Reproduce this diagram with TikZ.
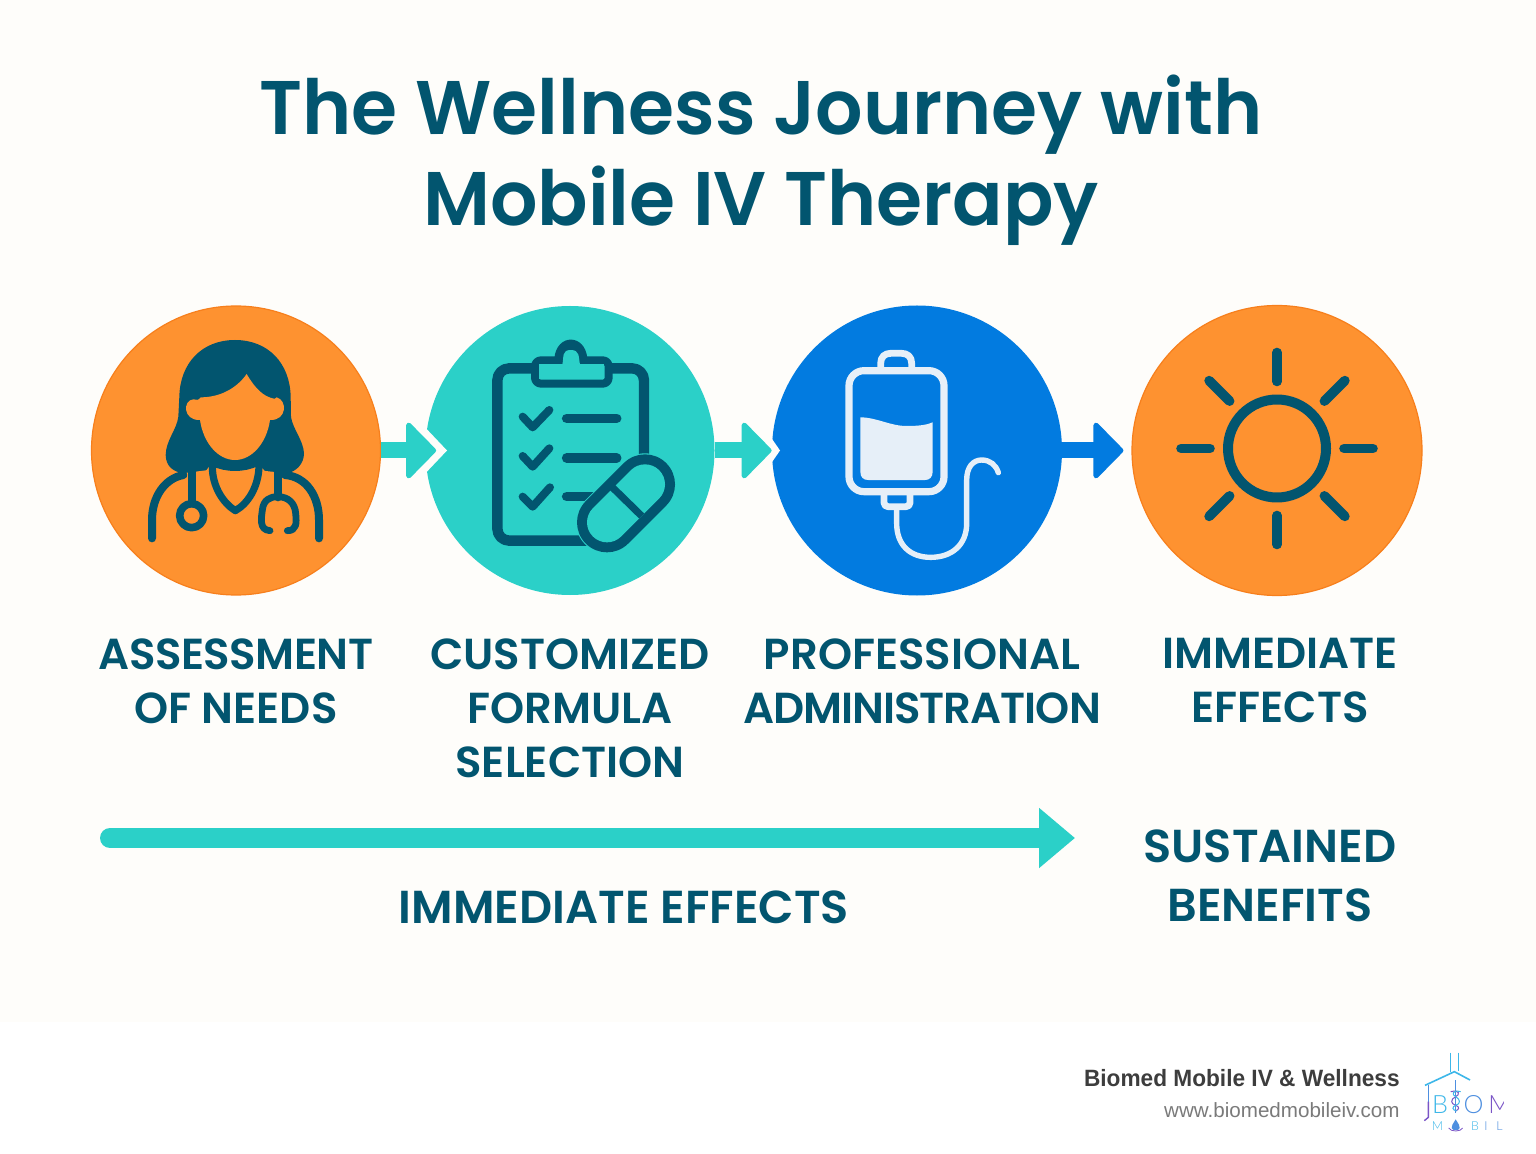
\documentclass[tikz,border=0pt]{standalone}
\usepackage{fontspec}
\usetikzlibrary{arrows.meta}
\setmainfont{Liberation Sans}
\newfontfamily\headfont{Poppins SemiBold}
\newfontfamily\titlefont[FakeStretch=0.98]{Poppins SemiBold}
\newfontfamily\footfont[FakeStretch=0.96]{Liberation Sans}
\newfontfamily\logofont{Lato Light}
\definecolor{paper}{HTML}{FEFDFA}
\definecolor{ink}{HTML}{02556F}
\definecolor{orangefill}{HTML}{FE9230}
\definecolor{orangeline}{HTML}{F77F1C}
\definecolor{teal}{HTML}{2BD0C8}
\definecolor{bluefill}{HTML}{027BE0}
\definecolor{pale}{HTML}{E6EFF8}
\definecolor{logoA}{HTML}{3DB7E9}
\definecolor{logoB}{HTML}{7B55C7}
\definecolor{logoC}{HTML}{4E8FE0}
\tikzset{
  disc/.style={circle,inner sep=0pt,minimum size=#1},
  flow/.style={draw=#1,line width=8pt,-{Triangle[round,length=15.5pt,width=31pt,line width=2.5pt,fill=#1]}},
  steplabel/.style={anchor=north,inner sep=0pt,align=center,text=ink,font=\headfont\fontsize{21.7pt}{27pt}\selectfont},
  biglabel/.style={steplabel,font=\headfont\fontsize{23.1pt}{29.5pt}\selectfont},
  logoletter/.style={inner sep=0pt,anchor=base,font=\logofont\fontsize{#1}{#1}\selectfont},
  icn/.style={line cap=round,line join=round},
}
\begin{document}
\begin{tikzpicture}[x=0.5pt,y=-0.5pt]
\useasboundingbox (0,0) rectangle (1536,1154);
\fill[white] (0,0) rectangle (1536,1154);
\fill[paper] (0,0) rectangle (1536,1022);

\node[anchor=north,inner sep=0pt,align=center,text=ink,font=\titlefont\fontsize{38pt}{45.5pt}\selectfont] (title) at (761,75) {The Wellness Journey with\\Mobile IV Therapy};

\node[disc=144.5pt,fill=orangefill,draw=orangeline,line width=0.6pt] (c1) at (236,450.5) {};
\node[disc=144.5pt,fill=teal] (c2) at (570,450.5) {};
\node[disc=145pt,fill=bluefill] (c3) at (917,450.5) {};
\node[disc=145pt,fill=orangefill,draw=orangeline,line width=0.6pt] (c4) at (1277,450.5) {};

% white notches
\fill[paper] (420,422) -- (447,450.5) -- (420,479) -- cycle;
\fill[paper] (770,436) -- (780,450.5) -- (770,465) -- cycle;

% connectors
\draw[flow=teal,shorten >=-5.5pt] (c1.east) -- (c2.west);
\draw[flow=teal] (c2.east) -- (c3.west);
\draw[flow=bluefill,shorten >=4pt] (c3.east) -- (c4.west);

% doctor
\begin{scope}[shift={(80,300)},x=0.16667pt,y=-0.16667pt,icn]
  \fill[ink] (465,120) .. controls (365,120) and (300,190) .. (298,290)
     -- (295,350) .. controls (290,390) and (258,420) .. (257,465)
     .. controls (258,500) and (280,515) .. (310,520) -- (620,520)
     .. controls (650,515) and (672,490) .. (672,460)
     .. controls (670,420) and (637,385) .. (633,350) -- (632,290)
     .. controls (630,190) and (565,120) .. (465,120) -- cycle;
  \fill[orangefill] (500,222) .. controls (470,265) and (420,292) .. (362,292)
     .. controls (355,302) and (350,300) .. (340,298)
     .. controls (308,300) and (308,362) .. (360,360)
     .. controls (370,430) and (415,480) .. (465,480)
     .. controls (515,480) and (560,430) .. (570,360)
     .. controls (622,362) and (622,300) .. (590,292)
     .. controls (585,292) and (585,300) .. (582,296)
     .. controls (550,290) and (525,265) .. (500,222) -- cycle;
  % collar
  \fill[orangefill] (395,490) .. controls (440,515) and (490,515) .. (535,490)
     -- (560,520) .. controls (555,570) and (510,625) .. (465,650)
     .. controls (420,625) and (378,570) .. (372,520) -- cycle;
  \draw[ink,line width=3.6pt] (397,500) .. controls (397,560) and (430,610) .. (466,632)
     .. controls (505,610) and (535,560) .. (537,500);
  \draw[ink,line width=4pt] (398,486) .. controls (440,506) and (490,506) .. (532,486);
  \fill[orangefill] (300,521) -- (385,510) -- (372,540) -- (300,540) -- cycle;
  \fill[orangefill] (630,521) -- (548,512) -- (560,540) -- (630,540) -- cycle;
  % stethoscope
  \draw[ink,line width=4pt] (216,715) -- (216,660) .. controls (216,590) and (255,535) .. (310,525);
  \draw[ink,line width=4pt] (717,715) -- (717,660) .. controls (717,590) and (680,530) .. (615,525);
  \draw[ink,line width=4pt] (335,515) -- (335,610);
  \draw[ink,line width=3.8pt] (335,647) circle [radius=6pt];
  \draw[ink,line width=4pt] (593,515) -- (593,592);
  \draw[ink,line width=3.4pt] (570,692) .. controls (535,690) and (545,650) .. (547,630)
     .. controls (550,600) and (570,590) .. (593,590)
     .. controls (625,590) and (645,610) .. (647,640)
     .. controls (650,670) and (650,692) .. (622,692);
\end{scope}

% clipboard
\begin{scope}[shift={(420,300)},x=0.16667pt,y=-0.16667pt,icn]
  \draw[ink,line width=5.2pt,rounded corners=6pt] (672,475) -- (672,205) -- (232,205) -- (232,722) -- (500,722);
  \draw[ink,fill=teal,line width=4pt,rounded corners=3pt] (345,181) -- (566,181) -- (566,251) -- (345,251) -- cycle;
  \fill[ink] (403,175) .. controls (410,100) and (495,100) .. (502,175) -- cycle;
  \fill[ink] (403,170) rectangle (502,192);
  \fill[teal] (358,192) rectangle (553,238);
  \fill[teal] (427,194) .. controls (432,170) and (425,150) .. (452,150)
     .. controls (480,150) and (475,170) .. (480,194) -- cycle;
  \draw[ink,line width=4pt] (308,350) -- (338,382) -- (388,330);
  \draw[ink,line width=4pt] (308,468) -- (338,500) -- (388,445);
  \draw[ink,line width=4pt] (308,590) -- (338,620) -- (390,562);
  \draw[ink,line width=4.8pt] (440,355) -- (590,355);
  \draw[ink,line width=4.8pt] (440,474) -- (590,474);
  \draw[ink,line width=4.8pt] (440,590) -- (530,590);
  \draw[teal,line width=31pt] (561,667) -- (675,553);
  \draw[ink,line width=30pt] (561,667) -- (675,553);
  \draw[teal,line width=20pt] (561,667) -- (675,553);
  \draw[ink,line width=3.6pt,line cap=butt] (575,560) -- (665,648);
\end{scope}

% IV bag
\begin{scope}[shift={(760,300)},x=0.16667pt,y=-0.16667pt,icn]
  \draw[pale,line width=3.6pt,rounded corners=7.5pt] (267,212) rectangle (552,575);
  \draw[pale,line width=3.4pt] (362,205) -- (362,190) .. controls (362,170) and (375,160) .. (392,160)
     -- (425,160) .. controls (442,160) and (455,170) .. (455,190) -- (455,205);
  \fill[pale] (301,352) .. controls (350,352) and (390,378) .. (440,378)
     .. controls (475,378) and (500,375) .. (518,367) -- (518,515)
     .. controls (518,532) and (508,540) .. (495,540) -- (325,540)
     .. controls (310,540) and (301,532) .. (301,515) -- cycle;
  \draw[pale,line width=3.4pt,rounded corners=2pt] (372,585) -- (372,620) -- (450,620) -- (450,585);
  \draw[pale,line width=2.7pt] (410,625) -- (410,670) .. controls (410,735) and (450,772) .. (512,772)
     .. controls (575,772) and (620,735) .. (620,670) -- (620,540)
     .. controls (620,500) and (640,480) .. (665,480) .. controls (690,480) and (708,495) .. (715,518);
\end{scope}

% sun
\begin{scope}[shift={(1277,448.5)},icn]
  \draw[ink,line width=5pt] (0,0) circle [radius=24.5pt];
  \foreach \a in {0,45,...,315}{
    \draw[ink,line width=4.8pt] (\a:67) -- (\a:96);
  }
\end{scope}

% labels
\node[steplabel] (l1) at (236,638) {{\addfontfeature{LetterSpace=-1.2}ASSESSMENT}\\OF NEEDS};
\node[steplabel] (l2) at (570,638) {CUSTOMIZED\\FORMULA\\SELECTION};
\node[steplabel] (l3) at (922,638) {PROFESSIONAL\\{\addfontfeature{LetterSpace=-2.3}ADMINISTRATION}};
\node[steplabel] (l4) at (1280,638) {IMMEDIATE\\EFFECTS};

\coordinate (spanstart) at (110,838);
\coordinate (spanend) at (1075,838);
\draw[teal,line width=10pt,line cap=round,-{Triangle[length=18pt,width=29pt,fill=teal]}] (spanstart) -- (spanend);
\node[biglabel] (l5) at (624,890) {IMMEDIATE EFFECTS};
\node[biglabel] (l6) at (1270,829) {SUSTAINED\\BENEFITS};

% footer
\node[anchor=base east,inner sep=0pt,text=black!76,font=\footfont\bfseries\fontsize{11.8pt}{14pt}\selectfont] (f1) at (1400,1086) {Biomed Mobile IV \& Wellness};
\node[anchor=base east,inner sep=0pt,text=black!52,font=\fontsize{10.3pt}{12pt}\selectfont] (f2) at (1400,1117) {www.biomedmobileiv.com};

% logo
\begin{scope}[shift={(1060,1030)},x=0.16667pt,y=-0.16667pt]
  \draw[logoA,line width=0.6pt] (1172,68) -- (1172,125);
  \draw[logoA,line width=0.6pt] (1195,68) -- (1195,122);
  \draw[logoA,line width=0.8pt] (1095,166) -- (1183,125) -- (1230,150);
  \draw[logoC,line width=0.7pt] (1105,165) -- (1105,215);
  \draw[logoB,line width=0.7pt] (1105,215) -- (1105,262) -- (1093,272);
  \draw[logoC,line width=0.5pt] (1187,150) -- (1187,250);
  \draw[logoB,line width=0.5pt] (1172,185) .. controls (1200,178) and (1200,195) .. (1187,200)
    .. controls (1170,208) and (1172,222) .. (1187,226) .. controls (1200,230) and (1198,240) .. (1185,243);
  \draw[logoA,line width=0.5pt] (1202,185) .. controls (1175,178) and (1175,195) .. (1187,200)
    .. controls (1202,208) and (1202,222) .. (1187,226) .. controls (1175,230) and (1176,240) .. (1190,243);
  \fill[logoC] (1187,268) .. controls (1195,282) and (1201,288) .. (1199,294)
    .. controls (1197,303) and (1177,303) .. (1175,294) .. controls (1173,288) and (1179,282) .. (1187,268) -- cycle;
  \draw[logoB,line width=0.4pt] (1166,294) .. controls (1172,306) and (1202,306) .. (1208,294);
\end{scope}
\node[logoletter=12.6pt,text=logoA] (lb) at (1440,1113) {B};
\node[logoletter=12.6pt,text=logoC] (lo) at (1473.5,1113) {O};
\begin{scope}
  \clip (1486,1090) rectangle (1503,1118);
  \node[logoletter=12.6pt,text=logoB,anchor=base west] (lm) at (1488,1113) {M};
\end{scope}
\node[logoletter=6.2pt,text=logoA] (lmm) at (1437.5,1130) {M};
\node[logoletter=6.2pt,text=logoA] (lbb) at (1475,1130) {B};
\node[logoletter=6.2pt,text=logoC] (lii) at (1486,1130) {I};
\node[logoletter=6.2pt,text=logoC] (lll) at (1499.5,1130) {L};
\end{tikzpicture}
\end{document}
